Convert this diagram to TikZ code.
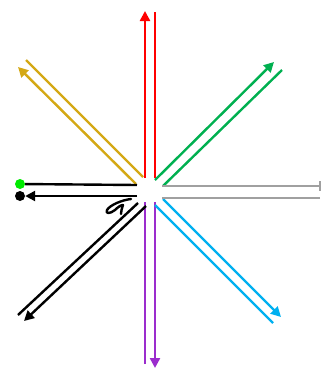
\documentclass[tikz,border=0pt]{standalone}
\usepackage{tikz}
\usetikzlibrary{arrows.meta}
\definecolor{myred}{RGB}{255,0,0}
\definecolor{mypurple}{RGB}{155,45,205}
\definecolor{mygold}{RGB}{212,168,20}
\definecolor{mygreen}{RGB}{0,176,80}
\definecolor{mycyan}{RGB}{0,176,240}
\definecolor{mygray}{RGB}{160,160,160}
\definecolor{mylime}{RGB}{0,235,0}
\tikzset{
    wire/.style={line width=2.4pt},
    arrowline/.style={wire,-{Triangle[length=10pt,width=10pt]}},
    dot/.style={circle,fill,inner sep=0pt,minimum size=10pt}
}
\begin{document}
\begin{tikzpicture}[x=1pt,y=-1pt]
        \useasboundingbox (0,0) rectangle (321,370);

        % -- vertical pair up (red) and down (purple) --
        \draw[arrowline,myred] (145,178) -- (145,11);
        \draw[wire,myred] (155,12) -- (155,178);
        \draw[arrowline,mypurple] (155,202) -- (155,368);
        \draw[wire,mypurple] (145,364) -- (145,202);

        % -- diagonals: gold up-left, green up-right --
        \draw[arrowline,mygold] (136,184) -- (18,67);
        \draw[wire,mygold] (26,60) -- (143,177);
        \draw[arrowline,mygreen] (155,180) -- (274,62);
        \draw[wire,mygreen] (282,70) -- (163,186);

        % -- diagonals: black down-left, cyan down-right --
        \draw[arrowline,black] (146,206) -- (24,321);
        \draw[wire,black] (18,315) -- (138,203);
        \draw[arrowline,mycyan] (163,199) -- (281,317);
        \draw[wire,mycyan] (273,323) -- (155,205);

        % -- horizontal: gray to the right, with end bar --
        \draw[wire,mygray] (162,186) -- (320,186);
        \draw[wire,mygray] (320,181) -- (320,191);
        \draw[wire,mygray] (320,198) -- (162,198);

        % -- horizontal: black to the left, ending at the two dots --
        \node[dot,mylime] (gdot) at (20,184) {};
        \node[dot,black] (bdot) at (20,196) {};
        \draw[wire,black] (137,185) -- (gdot);
        \draw[arrowline,black] (137,196) -- (bdot.east);

        % -- small squiggle below the left pair --
        \draw[wire,black,line join=round,line cap=round]
            (131,199) .. controls (122,200) and (110,205) .. (107,210)
            .. controls (105,214) and (110,214) .. (115,210)
            .. controls (118,207) and (121,205) .. (123,205)
            .. controls (122,208) and (121,211) .. (121,214);

\end{tikzpicture}
\end{document}
